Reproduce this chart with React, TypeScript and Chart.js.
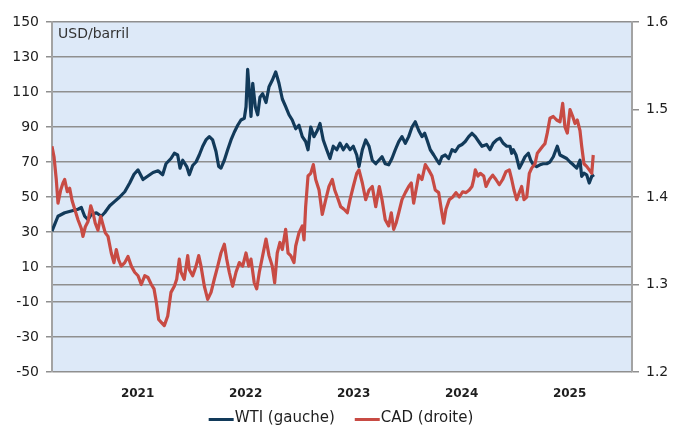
import React, { useEffect, useRef } from 'react';
import { Chart, registerables } from 'chart.js';

Chart.register(...registerables);

// Dates are fractional years
const wtiDates = [
  2020.207, 2020.263, 2020.325, 2020.386, 2020.448, 2020.479, 2020.510, 2020.541, 2020.571, 2020.618,
  2020.664, 2020.695, 2020.742, 2020.788, 2020.834, 2020.881, 2020.927, 2020.967, 2021.004, 2021.050,
  2021.096, 2021.143, 2021.189, 2021.232, 2021.263, 2021.309, 2021.340, 2021.371, 2021.393, 2021.418,
  2021.455, 2021.479, 2021.510, 2021.541, 2021.571, 2021.603, 2021.633, 2021.664, 2021.695, 2021.726,
  2021.751, 2021.772, 2021.803, 2021.834, 2021.865, 2021.895, 2021.927, 2021.957, 2021.988, 2022.004,
  2022.019, 2022.034, 2022.050, 2022.066, 2022.090, 2022.112, 2022.133, 2022.158, 2022.189, 2022.217,
  2022.247, 2022.279, 2022.309, 2022.340, 2022.371, 2022.402, 2022.432, 2022.464, 2022.494, 2022.525,
  2022.556, 2022.578, 2022.603, 2022.633, 2022.664, 2022.689, 2022.719, 2022.751, 2022.781, 2022.812,
  2022.844, 2022.874, 2022.905, 2022.936, 2022.967, 2022.997, 2023.029, 2023.050, 2023.081, 2023.112,
  2023.143, 2023.173, 2023.205, 2023.263, 2023.293, 2023.325, 2023.355, 2023.386, 2023.418, 2023.448,
  2023.479, 2023.510, 2023.541, 2023.571, 2023.603, 2023.633, 2023.658, 2023.680, 2023.710, 2023.742,
  2023.772, 2023.793, 2023.818, 2023.849, 2023.880, 2023.911, 2023.942, 2023.973, 2024.004, 2024.034,
  2024.066, 2024.096, 2024.127, 2024.158, 2024.189, 2024.232, 2024.263, 2024.293, 2024.325, 2024.355,
  2024.386, 2024.418, 2024.448, 2024.464, 2024.479, 2024.504, 2024.534, 2024.556, 2024.587, 2024.618,
  2024.640, 2024.664, 2024.695, 2024.726, 2024.756, 2024.788, 2024.818, 2024.849, 2024.886, 2024.911,
  2024.942, 2024.973, 2025.004, 2025.034, 2025.066, 2025.096, 2025.112, 2025.133, 2025.158, 2025.182,
  2025.205, 2025.226,
];
const wtiValues = [
  30.5, 39, 41, 42, 43, 44, 39, 37, 40, 41,
  39, 41, 45, 47.5, 50, 53, 58, 63, 65.5, 60,
  62, 64, 65, 62.7, 69, 72, 75, 74, 66.5, 71,
  67.4, 62.7, 68, 70, 74, 79, 82.6, 84.5, 82.6, 76,
  67.4, 66.5, 71, 77, 82.6, 87, 91, 94, 95, 101.6,
  123, 111, 96, 115, 101.6, 97, 107, 109, 104, 113,
  116.7, 121.5, 115, 106, 101.6, 97, 94, 89, 91, 84.5,
  81.7, 77, 90, 84.5, 88, 92, 82.6, 77, 72, 79,
  77, 80.7, 77, 80, 77, 79, 74, 67.4, 77, 82.6,
  79, 71, 69, 73, 69, 68.4, 72, 77, 81.7, 84.5,
  80.7, 84.5, 90, 93, 88, 84.5, 86.4, 82.6, 77, 74,
  71, 69, 73, 74, 72, 77, 76, 79, 80, 81.7,
  84.5, 86.4, 84.5, 81.7, 79, 80, 77, 80.7, 82.6, 83.6,
  80.7, 79, 79, 75, 77, 74, 66.5, 69, 73, 75,
  71, 68.4, 67.4, 68.4, 69, 69, 70, 73, 79, 74,
  73, 72, 70, 68.4, 66.5, 71, 61.8, 63.6, 62.7, 58,
  61.8, 62.7,
];

const cadDates = [
  2020.207, 2020.226, 2020.247, 2020.263, 2020.288, 2020.309, 2020.325, 2020.349, 2020.371, 2020.393,
  2020.418, 2020.448, 2020.479, 2020.494, 2020.516, 2020.541, 2020.566, 2020.587, 2020.608, 2020.633,
  2020.658, 2020.680, 2020.701, 2020.726, 2020.756, 2020.781, 2020.803, 2020.825, 2020.849, 2020.881,
  2020.911, 2020.942, 2020.973, 2021.004, 2021.034, 2021.066, 2021.096, 2021.127, 2021.152, 2021.173,
  2021.195, 2021.217, 2021.247, 2021.279, 2021.309, 2021.340, 2021.362, 2021.386, 2021.402, 2021.432,
  2021.464, 2021.479, 2021.510, 2021.541, 2021.566, 2021.587, 2021.618, 2021.649, 2021.680, 2021.710,
  2021.742, 2021.772, 2021.803, 2021.825, 2021.849, 2021.880, 2021.911, 2021.942, 2021.973, 2022.004,
  2022.029, 2022.050, 2022.080, 2022.103, 2022.127, 2022.158, 2022.189, 2022.217, 2022.247, 2022.269,
  2022.293, 2022.318, 2022.340, 2022.371, 2022.393, 2022.418, 2022.448, 2022.464, 2022.494, 2022.525,
  2022.541, 2022.556, 2022.578, 2022.603, 2022.627, 2022.649, 2022.680, 2022.710, 2022.742, 2022.772,
  2022.803, 2022.825, 2022.849, 2022.880, 2022.911, 2022.942, 2022.967, 2022.997, 2023.029, 2023.050,
  2023.081, 2023.112, 2023.143, 2023.173, 2023.205, 2023.238, 2023.263, 2023.293, 2023.325, 2023.349,
  2023.371, 2023.393, 2023.418, 2023.448, 2023.479, 2023.510, 2023.534, 2023.556, 2023.578, 2023.603,
  2023.633, 2023.664, 2023.695, 2023.726, 2023.756, 2023.788, 2023.812, 2023.834, 2023.855, 2023.886,
  2023.918, 2023.948, 2023.979, 2024.010, 2024.041, 2024.071, 2024.096, 2024.112, 2024.127, 2024.152,
  2024.173, 2024.205, 2024.226, 2024.257, 2024.288, 2024.318, 2024.349, 2024.380, 2024.411, 2024.442,
  2024.464, 2024.485, 2024.510, 2024.534, 2024.556, 2024.578, 2024.603, 2024.627, 2024.649, 2024.680,
  2024.701, 2024.726, 2024.751, 2024.772, 2024.793, 2024.818, 2024.849, 2024.880, 2024.911, 2024.936,
  2024.957, 2024.979, 2025.004, 2025.029, 2025.050, 2025.071, 2025.096, 2025.112, 2025.133, 2025.158,
  2025.182, 2025.205, 2025.219,
];
const cadValues = [
  1.458, 1.446, 1.420, 1.393, 1.408, 1.416, 1.420, 1.406, 1.410, 1.396,
  1.386, 1.374, 1.364, 1.355, 1.366, 1.372, 1.390, 1.382, 1.370, 1.362,
  1.378, 1.368, 1.359, 1.355, 1.336, 1.325, 1.340, 1.328, 1.321, 1.325,
  1.332, 1.321, 1.314, 1.310, 1.300, 1.310, 1.308, 1.300, 1.295, 1.280,
  1.260, 1.257, 1.253, 1.264, 1.291, 1.298, 1.306, 1.329, 1.314, 1.306,
  1.333, 1.317, 1.310, 1.321, 1.333, 1.321, 1.298, 1.283, 1.291, 1.306,
  1.321, 1.336, 1.346, 1.329, 1.314, 1.298, 1.314, 1.325, 1.321, 1.336,
  1.321, 1.329, 1.302, 1.295, 1.314, 1.333, 1.352, 1.333, 1.321, 1.302,
  1.336, 1.348, 1.340, 1.363, 1.336, 1.333, 1.325, 1.344, 1.359, 1.367,
  1.351, 1.389, 1.424, 1.427, 1.437, 1.420, 1.408, 1.380, 1.397, 1.412,
  1.420, 1.408, 1.400, 1.389, 1.386, 1.382, 1.397, 1.412, 1.427, 1.431,
  1.416, 1.397, 1.408, 1.412, 1.389, 1.412, 1.397, 1.374, 1.367, 1.382,
  1.363, 1.370, 1.382, 1.397, 1.405, 1.412, 1.416, 1.393, 1.408, 1.425,
  1.420, 1.437, 1.431, 1.424, 1.408, 1.405, 1.386, 1.370, 1.386, 1.397,
  1.400, 1.405, 1.400, 1.406, 1.405, 1.408, 1.412, 1.420, 1.431, 1.424,
  1.427, 1.424, 1.412, 1.420, 1.425, 1.420, 1.414, 1.420, 1.429, 1.431,
  1.420, 1.408, 1.397, 1.405, 1.412, 1.397, 1.400, 1.427, 1.433, 1.438,
  1.450, 1.454, 1.458, 1.461, 1.473, 1.490, 1.492, 1.488, 1.486, 1.507,
  1.480, 1.473, 1.500, 1.492, 1.484, 1.488, 1.476, 1.458, 1.438, 1.435,
  1.431, 1.427, 1.448,
];

const yearTicks = [2021, 2022, 2023, 2024, 2025];
const leftTicks = [-50, -30, -10, 10, 30, 50, 70, 90, 110, 130, 150];
const rightTicks = [1.2, 1.3, 1.4, 1.5, 1.6];
const zeroLine = 0;
const seriesLabels = ['WTI (gauche)', 'CAD (droite)'];
const unitLabel = 'USD/barril';

const FONT = "'DejaVu Sans', sans-serif";
const NAVY = '#123a5a';
const RED = '#c84b44';
const GRID = '#8f8f8f';
const AXIS = '#a3a3a3';
const TEXT = '#1e1e1e';
const PLOT_BG = '#dde9f8';

const bgPlugin = {
  id: 'plotBg',
  beforeDraw(chart: any) {
    const { ctx, chartArea } = chart;
    ctx.save();
    ctx.fillStyle = PLOT_BG;
    ctx.fillRect(chartArea.left, chartArea.top, chartArea.right - chartArea.left, chartArea.bottom - chartArea.top);
    ctx.restore();
  },
  beforeDatasetsDraw(chart: any) {
    const { ctx, chartArea } = chart;
    ctx.save();
    ctx.font = `14px ${FONT}`;
    ctx.fillStyle = '#333333';
    ctx.textBaseline = 'middle';
    ctx.textAlign = 'left';
    ctx.fillText(unitLabel, chartArea.left + 6, chartArea.top + 12);
    ctx.restore();
  },
};

const legendPlugin = {
  id: 'customLegend',
  afterDraw(chart: any) {
    const { ctx } = chart;
    const sample = 25;
    const gap = 20;
    ctx.save();
    ctx.font = `15px ${FONT}`;
    const items = chart.data.datasets.map((d: any) => ({ label: d.label, color: d.borderColor, w: ctx.measureText(d.label).width }));
    const total = items.reduce((s: number, it: any) => s + sample + 1 + it.w, 0) + gap * (items.length - 1);
    let x = (chart.width - total) / 2 - 2;
    const y = chart.height - 9.5;
    items.forEach((it: any) => {
      ctx.strokeStyle = it.color;
      ctx.lineWidth = 3;
      ctx.beginPath();
      ctx.moveTo(x, y + 1);
      ctx.lineTo(x + sample, y + 1);
      ctx.stroke();
      ctx.fillStyle = TEXT;
      ctx.textBaseline = 'middle';
      ctx.textAlign = 'left';
      ctx.fillText(it.label, x + sample + 1, y);
      x += sample + 1 + it.w + gap;
    });
    ctx.restore();
  },
};

export default function App() {
  const ref = useRef<HTMLCanvasElement | null>(null);

  useEffect(() => {
    if (!ref.current) return;
    const wtiPoints = wtiDates.map((d, i) => ({ x: d, y: wtiValues[i] }));
    const cadPoints = cadDates.map((d, i) => ({ x: d, y: cadValues[i] }));
    const leftAll = [...leftTicks, zeroLine].sort((a, b) => a - b);

    const chart = new Chart(ref.current, {
      type: 'line',
      data: {
        datasets: [
          {
            label: seriesLabels[0],
            data: wtiPoints,
            borderColor: NAVY,
            backgroundColor: NAVY,
            borderWidth: 3.2,
            pointRadius: 0,
            tension: 0,
            borderJoinStyle: 'round',
            yAxisID: 'y',
            order: 1,
          },
          {
            label: seriesLabels[1],
            data: cadPoints,
            borderColor: RED,
            backgroundColor: RED,
            borderWidth: 3.2,
            pointRadius: 0,
            tension: 0,
            borderJoinStyle: 'round',
            yAxisID: 'y1',
            order: 0,
          },
        ],
      },
      options: {
        responsive: false,
        animation: false,
        devicePixelRatio: 1,
        layout: { padding: { top: 22, bottom: 26, left: 0, right: 0 } },
        plugins: { legend: { display: false }, tooltip: { enabled: false }, title: { display: false } },
        scales: {
          x: {
            type: 'linear',
            min: 2020.2074,
            max: 2025.5778,
            afterBuildTicks: (s: any) => {
              s.ticks = yearTicks.map((v) => ({ value: v }));
            },
            afterFit: (s: any) => {
              s.height = 30;
            },
            ticks: {
              autoSkip: false,
              maxRotation: 0,
              padding: 15,
              color: TEXT,
              font: { family: FONT, size: 12, weight: 'bold' },
              callback: (v: any) => String(v),
            },
            grid: { display: false, drawTicks: false },
            border: { display: false },
          },
          y: {
            type: 'linear',
            position: 'left',
            min: -50,
            max: 150,
            afterBuildTicks: (s: any) => {
              s.ticks = leftAll.map((v) => ({ value: v }));
            },
            afterFit: (s: any) => {
              s.width = 52;
            },
            ticks: {
              padding: 7,
              color: TEXT,
              font: { family: FONT, size: 14 },
              callback: (v: any) => (leftTicks.includes(v) ? String(v) : ''),
            },
            grid: {
              color: GRID,
              lineWidth: 1.5,
              tickLength: 6,
              tickColor: (c: any) => (c.tick && leftTicks.includes(c.tick.value) ? GRID : 'rgba(0,0,0,0)'),
            },
            border: { color: AXIS, width: 2 },
          },
          y1: {
            type: 'linear',
            position: 'right',
            min: 1.2,
            max: 1.6,
            afterBuildTicks: (s: any) => {
              s.ticks = rightTicks.map((v) => ({ value: v }));
            },
            afterFit: (s: any) => {
              s.width = 54;
            },
            ticks: {
              padding: 7,
              color: TEXT,
              font: { family: FONT, size: 14 },
              callback: (v: any) => Number(v).toFixed(1),
            },
            grid: { drawOnChartArea: false, tickLength: 7, color: GRID, lineWidth: 1.5 },
            border: { color: AXIS, width: 2 },
          },
        },
      },
      plugins: [bgPlugin, legendPlugin],
    } as any);

    return () => chart.destroy();
  }, []);

  return (
    <div style={{ position: 'absolute', left: 0, top: 0, width: 686, height: 428, background: '#ffffff' }}>
      <canvas ref={ref} width={686} height={428} style={{ width: 686, height: 428, display: 'block' }} />
    </div>
  );
}
